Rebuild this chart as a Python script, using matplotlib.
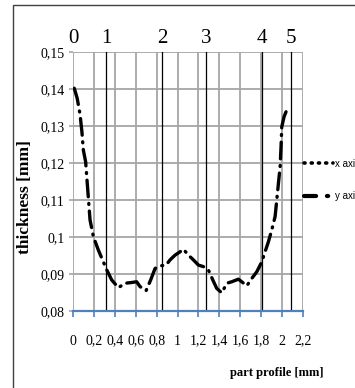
import matplotlib
matplotlib.use("Agg")
import matplotlib.pyplot as plt
from matplotlib.lines import Line2D
from matplotlib.patches import Rectangle

# ---- data ----
profile_x = [0.012, 0.04, 0.067, 0.085, 0.099, 0.121, 0.146, 0.163, 0.195, 0.242,
             0.29, 0.323, 0.37, 0.434, 0.498, 0.561, 0.609, 0.641, 0.699, 0.743,
             0.785, 0.833, 0.89, 0.928, 0.976, 1.024, 1.056, 1.104, 1.152, 1.2,
             1.247, 1.295, 1.337, 1.375, 1.423, 1.471, 1.518, 1.582, 1.614, 1.662,
             1.71, 1.758, 1.806, 1.837, 1.869, 1.901, 1.933, 1.949, 1.965, 1.981,
             1.99, 1.997, 2.019, 2.051]
thickness_y = [0.1402, 0.1375, 0.1332, 0.1285, 0.1235, 0.1203, 0.1109, 0.1046, 0.1001, 0.0965,
               0.0933, 0.0911, 0.0884, 0.0863, 0.0875, 0.0877, 0.0879, 0.0866, 0.0855, 0.0884,
               0.0915, 0.0922, 0.0924, 0.0938, 0.0951, 0.0960, 0.0967, 0.0951, 0.0938, 0.0924,
               0.0920, 0.0911, 0.0884, 0.0861, 0.0849, 0.0875, 0.0879, 0.0886, 0.0879, 0.0868,
               0.0888, 0.0906, 0.0933, 0.0960, 0.0987, 0.1019, 0.1055, 0.110, 0.1145, 0.119,
               0.1244, 0.1298, 0.1325, 0.1348]
section_x = [0.0, 0.316, 0.851, 1.272, 1.808, 2.085]
section_labels = ["0", "1", "2", "3", "4", "5"]
xticks = [0, 0.2, 0.4, 0.6, 0.8, 1.0, 1.2, 1.4, 1.6, 1.8, 2.0, 2.2]
xtick_labels = ["0", "0,2", "0,4", "0,6", "0,8", "1", "1,2", "1,4", "1,6", "1,8", "2", "2,2"]
yticks = [0.08, 0.09, 0.10, 0.11, 0.12, 0.13, 0.14, 0.15]
ytick_labels = ["0,08", "0,09", "0,1", "0,11", "0,12", "0,13", "0,14", "0,15"]
legend_labels = ["x axi", "y axi"]

serif = ["Liberation Serif", "DejaVu Serif"]
sans = ["Liberation Sans", "DejaVu Sans"]
grid_c = "#a6a6a6"
blue = "#4f81bd"

W, H = 355, 388
fig = plt.figure(figsize=(W / 100, H / 100), dpi=100)
fig.patch.set_facecolor("white")

# outer frame
fig.patches.append(Rectangle((13 / W, -0.05), 1.0, 1 - 5 / H + 0.05,
                             transform=fig.transFigure, fill=False,
                             edgecolor="#404040", linewidth=1.0))

ax = fig.add_axes([73 / W, 1 - 311 / H, 230 / W, 259 / H])
ax.set_xlim(0, 2.2)
ax.set_ylim(0.08, 0.15)

for x in xticks:
    ax.axvline(x, color=grid_c, lw=1.3, zorder=1)
for y in yticks[1:]:
    ax.axhline(y, color=grid_c, lw=1.3, zorder=1)
for x in section_x[1:]:
    ax.axvline(x, color="black", lw=0.9, zorder=2)
for x, lab in zip(section_x, section_labels):
    ax.text(x, 0.1512, lab, ha="center", va="bottom", fontsize=15,
            family=serif, transform=ax.transData)

line, = ax.plot(profile_x, thickness_y, color="black", lw=2.4,
                linestyle=(0, (5.0, 2.0, 0.3, 2.0)), dash_capstyle="round",
                solid_capstyle="round", zorder=3)

for s in ["left", "right", "top"]:
    ax.spines[s].set_visible(False)
ax.spines["bottom"].set_color(blue)
ax.spines["bottom"].set_linewidth(1.6)

ax.set_xticks(xticks)
ax.set_xticklabels(xtick_labels, family=serif, fontsize=10)
ax.set_yticks(yticks)
ax.set_yticklabels(ytick_labels, family=serif, fontsize=10)
ax.tick_params(axis="x", direction="out", length=4, color=blue, width=1.2, pad=13)
ax.tick_params(axis="y", direction="out", length=3, color=grid_c, width=1.2, pad=3)

fig.text(323 / W, 1 - 373 / H, "part profile [mm]", ha="right", va="center",
         fontsize=9, fontweight="bold", family=serif)
fig.text(25 / W, 1 - 197 / H, "thickness [mm]", ha="center", va="center",
         rotation=90, fontsize=12.5, fontweight="bold", family=serif)

h_x = Line2D([], [], color="black", lw=2.6, linestyle=(0, (0.3, 1.7)),
             dash_capstyle="round")
h_y = Line2D([], [], color="black", lw=3.0, linestyle=(0, (2.9, 2.6, 0.3, 10)),
             dash_capstyle="round")
fig.legend([h_x, h_y], legend_labels, loc="upper left",
           bbox_to_anchor=(300 / W, 1 - 155 / H), frameon=False,
           prop={"family": sans, "size": 7}, handlelength=3.0,
           handletextpad=0.15, labelspacing=2.3, borderaxespad=0)

fig.savefig("out.png", dpi=100)
